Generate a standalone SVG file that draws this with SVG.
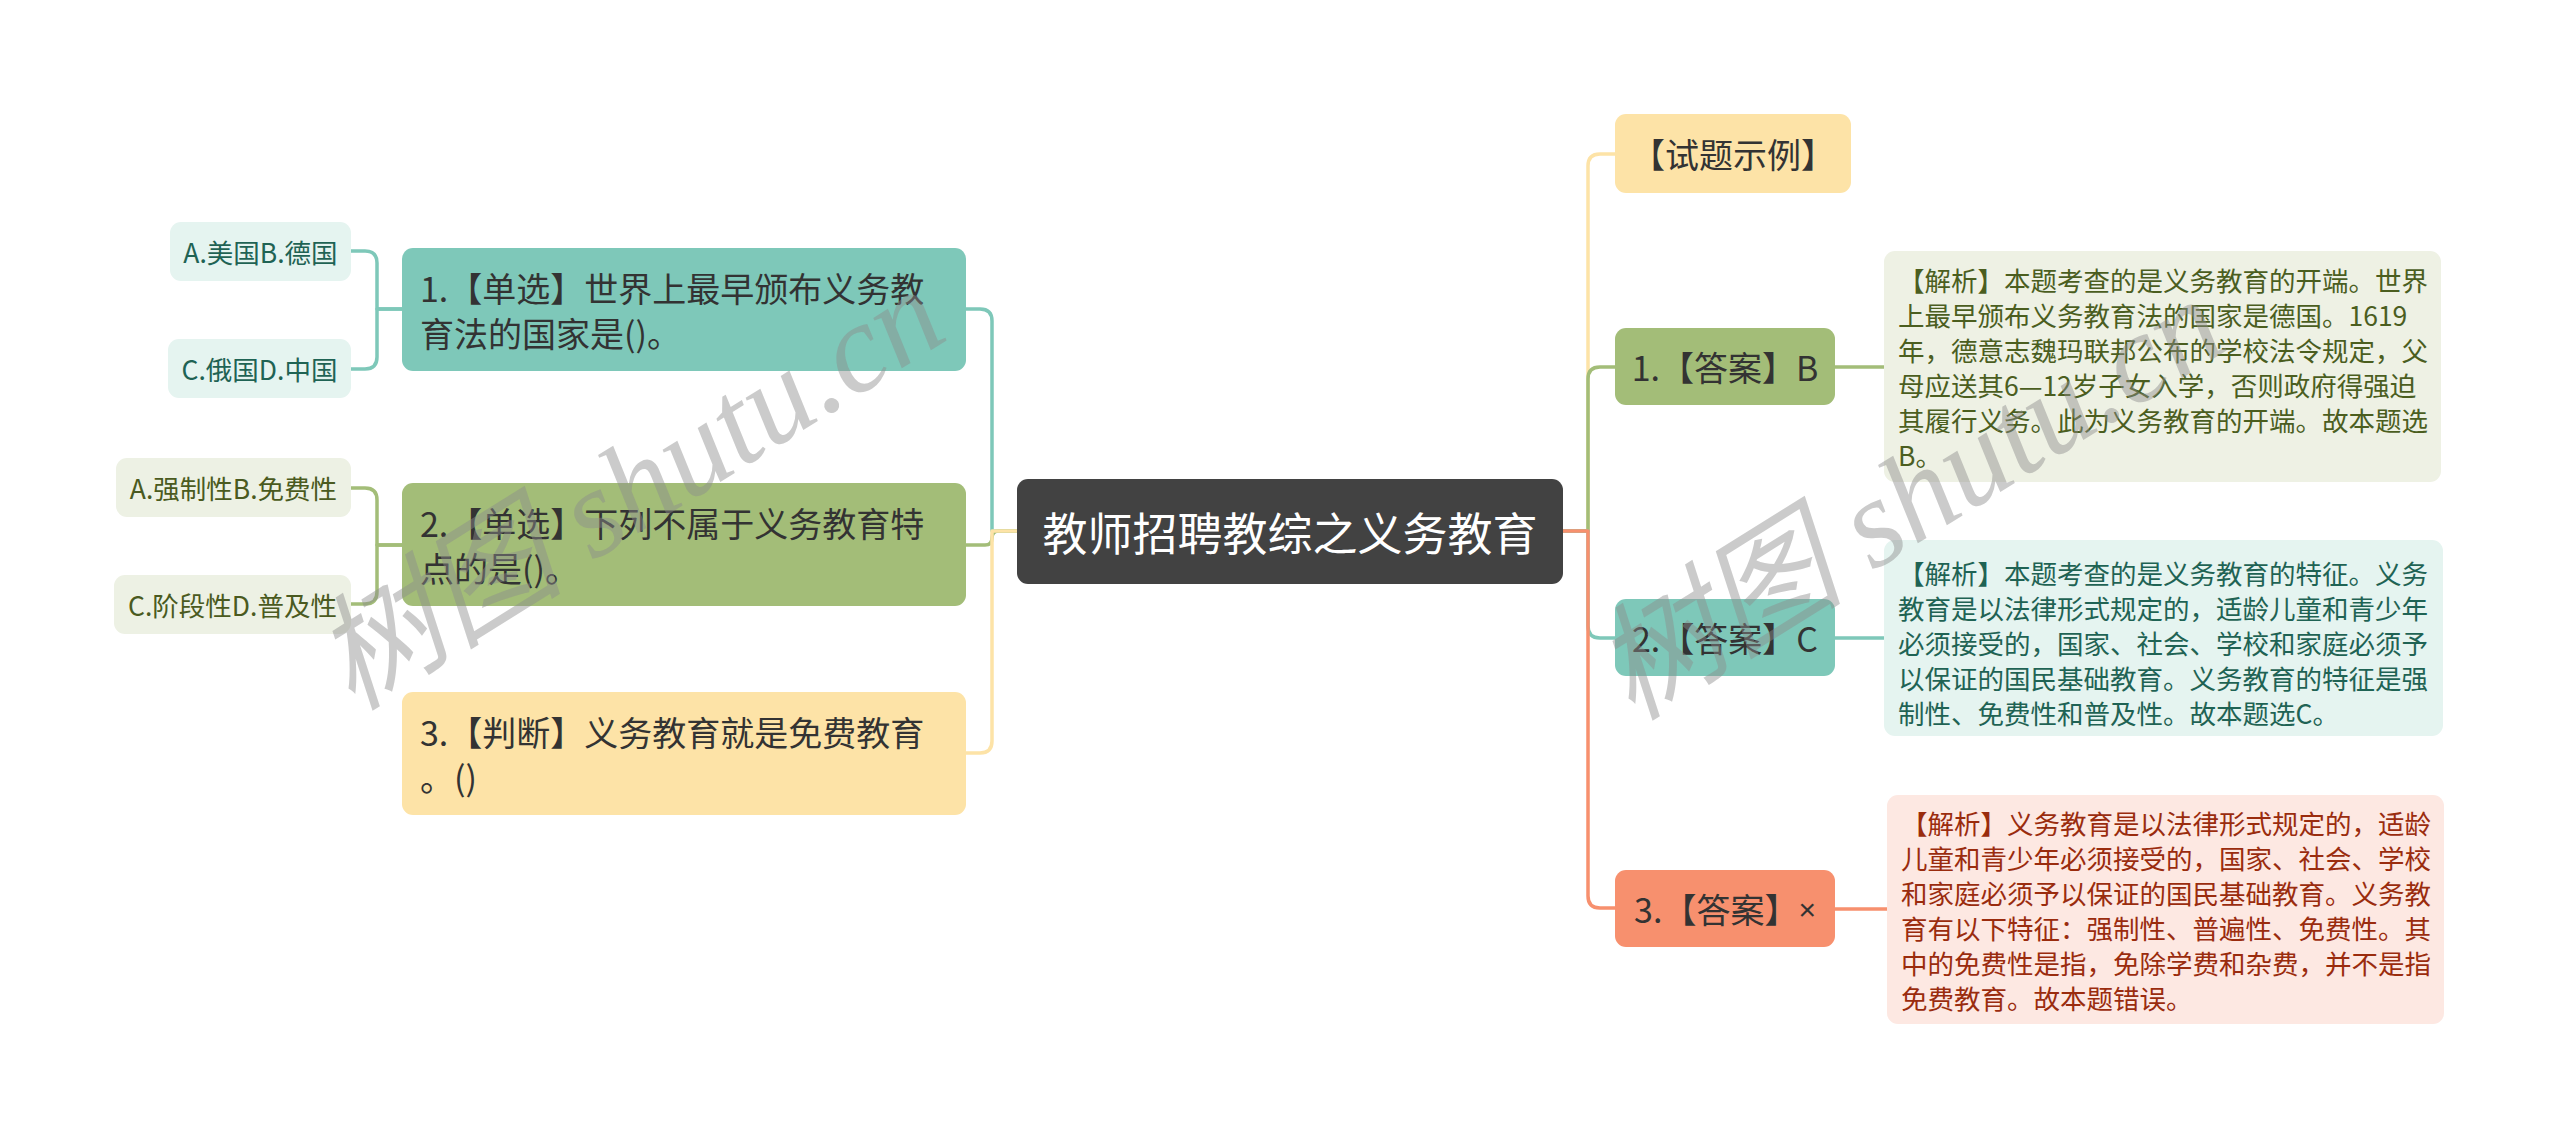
<svg xmlns="http://www.w3.org/2000/svg" width="2560" height="1140" viewBox="0 0 2560 1140">
<style>
text{font-family:"Noto Sans CJK SC","Noto Sans",sans-serif;dominant-baseline:central}
.c{fill:none;stroke-width:3.5;stroke-linecap:round;stroke-linejoin:round}
.teal{stroke:#7ec8b9}.olive{stroke:#a3bd78}.yel{stroke:#fde3a7}.sal{stroke:#f7906e}
.big{font-size:34px;fill:#333333}
.mid{text-anchor:middle}
.leafT{font-size:26.5px;fill:#1f6354;text-anchor:middle}
.leafO{font-size:26.5px;fill:#4a5a20;text-anchor:middle}
.ex{font-size:26.5px}
.wm{font-family:"Liberation Serif","Noto Sans CJK SC",serif;font-style:italic;font-size:126px;fill:#8c8c8c;fill-opacity:0.45;dominant-baseline:alphabetic}
</style>
<rect width="2560" height="1140" fill="#ffffff"/>
<g id="connectors">
  <path class="c teal" d="M1017 531 H992 V321 Q992 309 980 309 H966"/>
  <path class="c olive" d="M1017 531 H999 Q992 531 992 538 V538 Q992 545 985 545 H966"/>
  <path class="c yel" d="M1017 531 H992 V741 Q992 753 980 753 H966"/>
  <path class="c teal" d="M402 309 H377 V263 Q377 251 365 251 H351"/>
  <path class="c teal" d="M402 309 H377 V357 Q377 369 365 369 H351"/>
  <path class="c olive" d="M402 545 H377 V500 Q377 488 365 488 H351"/>
  <path class="c olive" d="M402 545 H377 V592 Q377 604 365 604 H351"/>
  <path class="c yel" d="M1563 531 H1588 V166 Q1588 154 1600 154 H1615"/>
  <path class="c olive" d="M1563 531 H1588 V379 Q1588 367 1600 367 H1615"/>
  <path class="c teal" d="M1563 531 H1588 V626 Q1588 638 1600 638 H1615"/>
  <path class="c sal" d="M1563 531 H1588 V896 Q1588 908 1600 908 H1615"/>
  <path class="c olive" d="M1835 367 H1884"/>
  <path class="c teal" d="M1835 638 H1884"/>
  <path class="c sal" d="M1835 909 H1887"/>
</g>
<g id="center">
  <rect x="1017" y="479" width="546" height="105" rx="11" fill="#424242"/>
  <text x="1290" y="531" class="mid" font-size="45" fill="#ffffff">教师招聘教综之义务教育</text>
</g>
<g id="q1">
  <rect x="402" y="248" width="564" height="123" rx="11" fill="#7ec8b9"/>
  <text class="big" x="420" y="287">1.【单选】世界上最早颁布义务教</text>
  <text class="big" x="420" y="332">育法的国家是()。</text>
</g>
<g id="q2">
  <rect x="402" y="483" width="564" height="123" rx="11" fill="#a3bd78"/>
  <text class="big" x="420" y="522">2.【单选】下列不属于义务教育特</text>
  <text class="big" x="420" y="567">点的是()。</text>
</g>
<g id="q3">
  <rect x="402" y="692" width="564" height="123" rx="11" fill="#fde3a7"/>
  <text class="big" x="420" y="731">3.【判断】义务教育就是免费教育</text>
  <text class="big" x="420" y="776">。()</text>
</g>
<g id="q1a">
  <rect x="170" y="222" width="181" height="59" rx="11" fill="#e5f4f0"/>
  <text class="leafT" x="260.5" y="251.5">A.美国B.德国</text>
</g>
<g id="q1b">
  <rect x="168" y="339" width="183" height="59" rx="11" fill="#e5f4f0"/>
  <text class="leafT" x="259.5" y="368.5">C.俄国D.中国</text>
</g>
<g id="q2a">
  <rect x="116" y="458" width="235" height="59" rx="11" fill="#edf1e4"/>
  <text class="leafO" x="233.5" y="487.5">A.强制性B.免费性</text>
</g>
<g id="q2b">
  <rect x="114" y="575" width="237" height="59" rx="11" fill="#edf1e4"/>
  <text class="leafO" x="232.5" y="604.5">C.阶段性D.普及性</text>
</g>
<g id="example">
  <rect x="1615" y="114" width="236" height="79" rx="11" fill="#fde3a7"/>
  <text class="big mid" x="1733" y="153.5">【试题示例】</text>
</g>
<g id="a1">
  <rect x="1615" y="328" width="220" height="77" rx="11" fill="#a3bd78"/>
  <text class="big mid" x="1725" y="366.5">1.【答案】B</text>
</g>
<g id="a2">
  <rect x="1615" y="599" width="220" height="77" rx="11" fill="#7ec8b9"/>
  <text class="big mid" x="1725" y="637.5">2.【答案】C</text>
</g>
<g id="a3">
  <rect x="1615" y="870" width="220" height="77" rx="11" fill="#f7906e"/>
  <text class="big mid" x="1725" y="908.5">3.【答案】<tspan font-family="Liberation Sans, sans-serif" font-size="30">×</tspan></text>
</g>
<g id="e1">
  <rect x="1884" y="251" width="557" height="231" rx="11" fill="#eef1e4"/>
  <g class="ex" fill="#4b5e1f">
    <text x="1898" y="279">【解析】本题考查的是义务教育的开端。世界</text>
    <text x="1898" y="314">上最早颁布义务教育法的国家是德国。1619</text>
    <text x="1898" y="349">年，德意志魏玛联邦公布的学校法令规定，父</text>
    <text x="1898" y="384">母应送其6—12岁子女入学，否则政府得强迫</text>
    <text x="1898" y="419">其履行义务。此为义务教育的开端。故本题选</text>
    <text x="1898" y="454">B。</text>
  </g>
</g>
<g id="e2">
  <rect x="1884" y="540" width="559" height="196" rx="11" fill="#e5f4f0"/>
  <g class="ex" fill="#1f6354">
    <text x="1898" y="572">【解析】本题考查的是义务教育的特征。义务</text>
    <text x="1898" y="607">教育是以法律形式规定的，适龄儿童和青少年</text>
    <text x="1898" y="642">必须接受的，国家、社会、学校和家庭必须予</text>
    <text x="1898" y="677">以保证的国民基础教育。义务教育的特征是强</text>
    <text x="1898" y="712">制性、免费性和普及性。故本题选C。</text>
  </g>
</g>
<g id="e3">
  <rect x="1887" y="795" width="557" height="229" rx="11" fill="#fde8e2"/>
  <g class="ex" fill="#9a2c0e">
    <text x="1901" y="822">【解析】义务教育是以法律形式规定的，适龄</text>
    <text x="1901" y="857">儿童和青少年必须接受的，国家、社会、学校</text>
    <text x="1901" y="892">和家庭必须予以保证的国民基础教育。义务教</text>
    <text x="1901" y="927">育有以下特征：强制性、普遍性、免费性。其</text>
    <text x="1901" y="962">中的免费性是指，免除学费和杂费，并不是指</text>
    <text x="1901" y="997">免费教育。故本题错误。</text>
  </g>
</g>
<g id="watermark">
  <text class="wm" transform="translate(352 712) rotate(-32)">树图 shutu.cn</text>
  <text class="wm" transform="translate(1632 722) rotate(-32)">树图 shutu.cn</text>
</g>
</svg>
